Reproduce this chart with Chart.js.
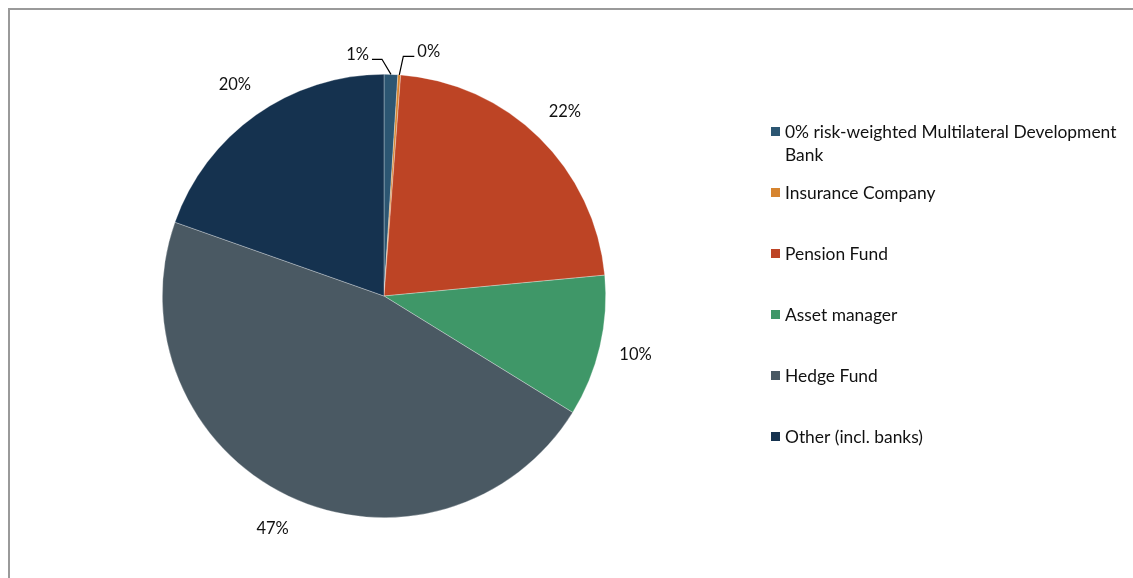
<!DOCTYPE html>
<html>
<head>
<meta charset="utf-8">
<script src="https://cdn.jsdelivr.net/npm/chart.js@4"></script>
<style>
  html, body { margin: 0; padding: 0; background: #fff; }
  body { width: 1133px; height: 578px; position: relative; overflow: hidden; }
  .frame { position: absolute; left: 8px; top: 8px; width: 1200px; height: 700px;
           border-left: 2px solid #9a9a9a; border-top: 2px solid #9a9a9a; }
  #pie { position: absolute; left: 0; top: 0; }
</style>
</head>
<body>
<div class="frame"></div>
<canvas id="pie" width="1133" height="578"></canvas>
<script>
    const categories = [
        ['0% risk-weighted Multilateral Development', 'Bank'],
        ['Insurance Company'],
        ['Pension Fund'],
        ['Asset manager'],
        ['Hedge Fund'],
        ['Other (incl. banks)']
    ];
    const shares = [1.0, 0.2, 22.3, 10.3, 46.6, 19.6];
    const colors = ['#2c5672', '#d6842f', '#bd4425', '#3f9768', '#4a5963', '#15324f'];

    const LEGEND_FONT = '17.4px Lato, "Open Sans", sans-serif';
    const LABEL_FONT = '16.5px Lato, "Open Sans", sans-serif';

    // percent labels round the pie, with leader lines for the tiny slices
    const pieLabels = {
        id: 'pieLabels',
        afterDatasetsDraw(chart) {
            const ctx = chart.ctx;
            const meta = chart.getDatasetMeta(0);
            ctx.save();
            ctx.font = LABEL_FONT;
            ctx.fillStyle = '#111';
            ctx.strokeStyle = '#000';
            ctx.lineWidth = 1.2;
            ctx.textBaseline = 'middle';
            meta.data.forEach((arc, i) => {
                const p = arc.getProps(['x', 'y', 'startAngle', 'endAngle', 'outerRadius'], true);
                const mid = (p.startAngle + p.endAngle) / 2;
                const txt = Math.round(shares[i]) + '%';
                if (shares[i] < 2) {
                    const ex = p.x + Math.cos(mid) * p.outerRadius;
                    const ey = p.y + Math.sin(mid) * p.outerRadius;
                    const left = i === 0;
                    const ky = p.y - p.outerRadius - (left ? 15 : 18);
                    const kx = ex + (left ? -9 : 4);
                    const hx = kx + (left ? -10 : 11);
                    ctx.beginPath();
                    ctx.moveTo(ex, ey);
                    ctx.lineTo(kx, ky);
                    ctx.lineTo(hx, ky);
                    ctx.stroke();
                    ctx.textAlign = left ? 'right' : 'left';
                    ctx.fillText(txt, hx + (left ? -3 : 3), ky - 5);
                } else {
                    const r = p.outerRadius * 1.165;
                    ctx.textAlign = 'center';
                    ctx.fillText(txt, p.x + Math.cos(mid) * r, p.y + Math.sin(mid) * r);
                }
            });
            ctx.restore();
        }
    };

    // legend on the right, drawn from the chart's own data
    const sideLegend = {
        id: 'sideLegend',
        afterDraw(chart) {
            const ctx = chart.ctx;
            const ds = chart.data.datasets[0];
            ctx.save();
            ctx.font = LEGEND_FONT;
            ctx.textBaseline = 'middle';
            ctx.textAlign = 'left';
            let y = 132;
            chart.data.labels.forEach((lines, i) => {
                ctx.fillStyle = ds.backgroundColor[i];
                ctx.fillRect(771, y - 5, 9, 9);
                ctx.fillStyle = '#111';
                lines.forEach((ln, j) => ctx.fillText(ln, 785, y + j * 23));
                y += 61;
            });
            ctx.restore();
        }
    };

    new Chart(document.getElementById('pie'), {
        type: 'pie',
        data: {
            labels: categories,
            datasets: [{
                data: shares,
                backgroundColor: colors,
                borderWidth: 0.6,
                borderColor: 'rgba(255,255,255,0.5)'
            }]
        },
        options: {
            responsive: false,
            animation: false,
            layout: { padding: { top: 74, bottom: 60, left: 162, right: 527 } },
            plugins: {
                legend: { display: false },
                tooltip: { enabled: false }
            }
        },
        plugins: [pieLabels, sideLegend]
    });
</script>
</body>
</html>
